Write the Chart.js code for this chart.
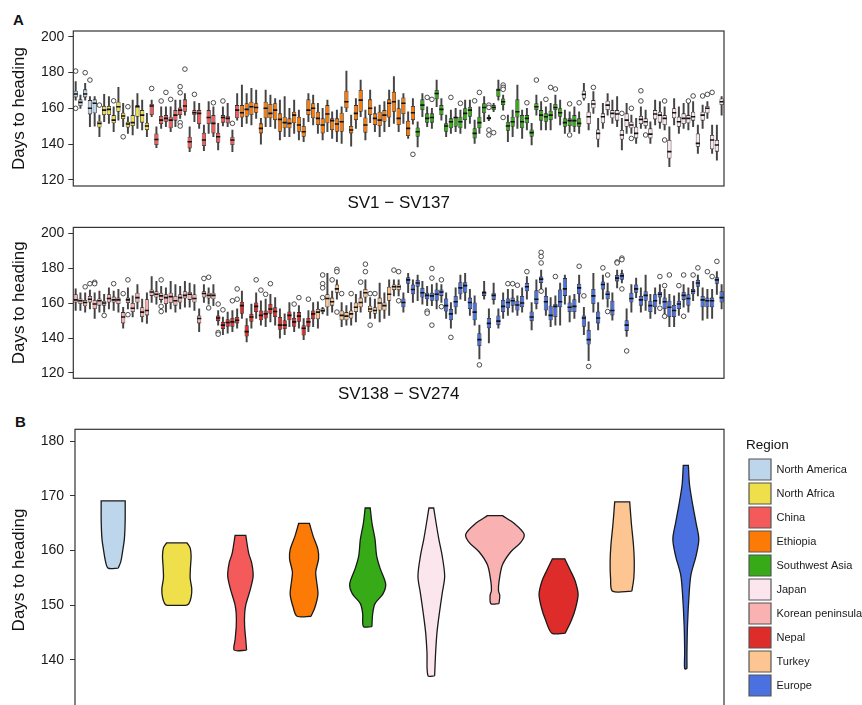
<!DOCTYPE html>
<html>
<head>
<meta charset="utf-8">
<script src="https://cdn.jsdelivr.net/npm/chart.js@4.4.0/dist/chart.umd.min.js"></script>
<style>
  html, body { margin: 0; padding: 0; background: #fff; overflow: hidden; width: 862px; height: 705px; }
  canvas { position: absolute; left: 0; }
  .tag { position: absolute; font: bold 15px "Liberation Sans", Arial, sans-serif; color: #111; }
</style>
</head>
<body>
<div class="tag" style="left:13px; top:11px;">A</div>
<canvas id="topChart" width="862" height="215" style="top:0px"></canvas>
<canvas id="bottomChart" width="862" height="190" style="top:215px"></canvas>
<div class="tag" style="left:15px; top:413px;">B</div>
<canvas id="violinChart" width="862" height="320" style="top:405px"></canvas>
<script>
// ---- Panel A, top row: SV1 - SV137 (box stats per accession) ----
const topLow = [164.6,160.0,164.6,149.7,150.0,144.1,152.5,151.6,146.9,153.4,
  149.7,146.0,145.1,148.8,147.9,144.1,155.3,138.0,148.8,149.7,
  146.9,149.7,154.4,156.2,135.8,152.5,148.8,136.3,146.0,144.1,
  136.7,150.1,149.7,135.8,153.4,149.7,151.6,150.7,154.4,140.0,
  149.7,149.7,148.8,142.3,144.1,144.1,146.0,142.3,141.3,152.5,
  150.7,146.0,142.3,146.9,143.2,141.3,140.4,158.1,138.9,148.8,
  155.3,142.3,152.0,146.9,144.1,146.9,149.7,151.6,146.9,151.6,
  143.2,151.2,138.5,155.3,149.7,148.8,160.9,153.4,144.1,146.0,
  146.9,146.0,148.8,151.6,140.4,146.0,152.5,153.1,158.1,164.6,
  159.0,141.3,144.1,148.8,143.2,147.9,139.5,156.2,147.9,147.9,
  147.9,154.4,150.7,146.0,146.9,146.9,146.0,164.6,147.9,157.2,
  138.5,148.8,156.2,151.6,149.7,136.7,146.0,146.0,140.4,148.8,
  148.8,140.4,150.7,148.8,147.9,127.4,150.7,146.0,148.8,147.9,
  149.7,134.8,148.8,154.4,134.8,131.1,156.2];
const topQ1 = [166.1,161.3,166.1,156.6,157.2,149.3,156.2,156.2,151.6,158.1,
  154.0,149.3,150.1,155.3,152.0,147.9,156.2,139.5,151.2,152.5,
  148.8,153.1,156.2,158.1,137.6,156.2,151.2,138.9,151.2,146.0,
  140.8,152.0,151.6,139.5,154.4,154.9,155.3,156.2,157.5,146.0,
  154.4,154.4,153.4,146.9,148.8,148.8,151.6,146.9,144.1,156.2,
  154.4,150.7,146.0,151.6,147.9,146.9,146.9,160.0,146.0,153.4,
  158.1,146.4,156.2,150.7,150.1,152.5,154.9,158.1,150.7,156.8,
  144.5,153.4,144.1,159.0,152.0,152.0,165.0,156.2,146.9,148.8,
  149.7,148.8,153.4,155.3,143.2,148.8,157.2,153.8,159.0,166.5,
  161.8,147.5,149.7,154.9,148.8,151.6,144.1,159.0,153.1,152.5,
  153.4,159.0,155.3,149.7,150.1,149.7,149.7,165.5,151.2,160.0,
  142.6,151.6,159.0,154.4,153.1,142.6,149.7,148.8,143.2,151.2,
  150.1,143.2,153.8,152.0,150.7,132.0,154.4,149.7,151.2,151.6,
  153.1,138.5,153.1,157.2,137.1,135.8,161.8];
const topMed = [168.0,163.3,168.0,160.0,162.8,151.6,159.0,159.4,153.4,160.9,
  155.7,151.2,152.0,160.9,156.2,150.1,161.3,142.6,153.4,154.4,
  153.4,156.2,159.0,161.3,141.3,157.5,157.2,142.3,154.9,151.6,
  144.1,154.9,154.4,142.3,159.0,157.5,159.4,160.9,160.5,148.8,
  160.0,157.2,159.0,153.8,152.0,151.6,156.2,150.7,146.9,159.0,
  160.0,154.4,150.7,156.8,153.1,151.2,152.5,163.7,147.9,157.2,
  164.6,150.7,160.0,154.4,153.4,156.2,162.8,163.7,154.4,162.8,
  148.8,157.5,146.9,161.8,154.4,154.9,168.3,159.4,150.1,152.5,
  154.9,152.5,157.2,159.0,146.0,152.0,160.5,154.5,160.5,170.2,
  163.7,150.1,152.5,158.1,152.5,154.4,146.4,160.9,156.2,155.3,
  156.2,160.5,157.5,152.0,153.1,153.1,151.6,167.8,155.3,162.4,
  146.0,155.3,161.8,157.2,156.8,145.1,153.4,150.7,146.0,153.8,
  152.5,145.6,156.8,156.2,154.4,135.8,157.5,152.5,154.4,154.4,
  155.3,140.4,156.2,160.0,142.3,139.5,163.7];
const topQ3 = [169.8,165.0,170.6,164.6,165.0,153.1,161.3,161.3,156.2,163.7,
  157.5,152.5,156.2,161.8,159.0,152.0,162.4,146.0,155.7,156.2,
  155.3,159.0,160.5,165.0,144.1,159.0,159.0,146.4,159.0,156.2,
  146.4,156.2,155.7,144.1,161.8,161.8,162.8,163.7,162.8,151.6,
  163.7,162.4,162.8,157.2,155.3,154.4,158.1,155.3,150.1,165.0,
  162.8,158.1,154.4,161.8,154.4,154.4,157.5,169.8,150.1,161.8,
  170.2,154.9,165.0,157.2,158.1,159.0,165.0,169.3,160.0,166.1,
  153.1,161.3,149.3,165.0,157.2,157.2,170.2,161.8,151.6,154.4,
  155.3,155.3,160.0,160.9,148.8,155.3,162.8,155.3,161.8,171.1,
  165.5,152.5,155.3,165.0,156.2,156.2,148.2,162.8,159.0,157.2,
  158.7,162.4,160.0,154.4,154.4,156.2,154.4,169.8,158.1,164.6,
  148.2,157.2,164.2,159.0,159.0,147.9,157.2,152.5,149.7,155.7,
  154.4,148.8,159.0,158.1,156.2,142.3,160.0,155.3,157.2,156.2,
  158.1,146.0,158.1,161.3,145.1,142.3,165.5];
const topHigh = [174.9,167.4,173.9,166.5,166.5,156.2,167.8,166.5,160.9,171.7,
  162.8,155.3,164.6,168.3,164.6,157.2,164.6,149.7,160.9,160.9,
  160.9,164.6,164.6,168.3,149.7,163.7,162.8,150.7,163.7,160.9,
  151.6,160.9,162.8,147.9,168.3,173.0,168.3,171.1,170.2,154.4,
  170.2,167.4,165.5,164.6,166.5,160.0,164.6,159.0,154.4,168.3,
  167.4,162.8,160.0,164.6,158.1,159.0,160.9,180.8,156.2,165.5,
  175.8,159.0,170.2,160.9,161.8,163.7,170.2,177.7,164.6,168.3,
  158.1,165.5,152.5,168.3,160.9,160.0,175.8,165.5,156.2,159.0,
  160.0,159.0,164.6,164.6,153.4,160.9,166.5,156.2,162.8,175.8,
  167.4,156.2,159.0,173.0,159.0,160.0,151.6,167.4,163.7,160.9,
  162.8,167.4,164.6,159.0,158.1,160.9,158.1,173.9,162.8,169.3,
  154.4,162.8,168.3,164.6,166.5,154.4,162.8,156.2,154.4,160.9,
  159.0,152.5,164.6,163.7,160.9,149.7,165.5,160.9,162.8,162.8,
  163.7,150.7,161.8,163.7,150.7,150.7,166.5];
// [accession number within row, days]
const topOutliers = [[1,180.8],[1,160.0],[3,179.9],[4,175.8],[6,161.8],[9,164.2],[11,144.1],[12,160.9],
  [17,171.1],[19,164.1],[20,168.9],[21,165.0],[23,172.1],[23,168.7],[23,152.0],[23,150.1],[24,181.9],
  [26,167.8],[30,163.1],[32,164.1],[34,151.6],[72,134.3],[75,166.1],[76,165.0],[80,166.1],[82,162.8],
  [85,164.2],[86,168.9],[88,161.8],[88,160.5],[88,147.9],[88,145.1],[89,146.4],[91,173.0],[91,171.7],
  [91,170.6],[91,154.9],[96,163.1],[98,175.8],[100,165.0],[101,171.7],[102,170.8],[105,162.5],[105,145.1],
  [107,163.1],[110,171.7],[116,157.2],[118,160.0],[118,143.2],[120,169.8],[120,164.1],[121,145.1],
  [125,164.1],[125,142.3],[130,164.1],[131,166.9],[133,166.9],[134,167.8],[135,168.9]];
const topRegions = ['North America','North Africa','China','Ethiopia','Southwest Asia','Japan'];
const topCounts = [5, 11, 19, 37, 35, 30];

// ---- Panel A, bottom row: SV138 - SV274 ----
const botLow = [155.8,155.8,154.9,156.7,151.2,154.9,154.9,156.7,155.8,154.9,
  145.6,156.7,152.1,156.7,149.3,148.4,160.4,159.5,160.4,154.9,
  156.7,154.9,156.7,157.7,157.7,155.8,143.7,160.4,159.5,158.6,
  147.4,141.9,142.8,143.7,145.6,151.2,137.8,145.6,151.2,147.4,
  146.5,149.3,147.4,140.0,141.9,146.5,143.7,145.6,139.1,143.7,
  146.5,145.6,153.9,153.0,154.9,162.3,146.5,147.4,147.4,149.3,
  154.9,160.4,151.2,151.2,149.3,151.2,153.0,164.2,164.2,154.9,
  166.0,160.4,161.4,159.5,158.6,158.6,156.7,160.4,151.2,145.6,
  153.9,162.3,161.4,153.0,147.4,128.0,162.3,137.2,159.5,145.6,
  151.2,153.0,154.9,153.0,154.9,162.3,144.7,156.7,167.9,153.0,
  146.5,147.4,147.4,159.5,149.3,151.2,160.4,141.9,127.0,154.9,
  144.7,162.3,157.7,150.2,168.8,171.6,140.9,154.9,163.2,154.9,
  155.8,151.2,153.9,159.5,153.0,146.5,146.5,153.0,157.7,154.9,
  161.4,164.2,150.2,151.2,151.2,165.1,156.7];
const botQ1 = [160.4,159.5,158.2,160.4,156.7,158.6,158.6,160.4,160.4,159.5,
  148.4,160.1,154.9,160.4,152.1,153.0,164.2,163.2,161.9,159.5,
  160.1,158.6,160.4,162.7,161.9,160.4,148.4,163.2,162.7,162.3,
  149.7,145.2,146.5,146.5,148.4,153.9,140.9,149.3,154.9,150.2,
  151.2,153.9,152.1,144.7,145.2,150.2,146.5,149.3,141.5,146.5,
  150.8,150.8,154.9,157.7,158.6,166.0,150.2,150.2,151.2,154.9,
  157.7,163.2,154.9,153.9,155.8,155.8,161.4,167.5,167.5,157.7,
  171.2,165.1,169.4,163.2,162.3,161.4,161.4,164.2,155.2,150.2,
  157.7,165.1,166.0,156.7,150.2,135.4,164.2,145.6,161.9,147.4,
  154.9,157.1,158.6,155.8,157.7,166.9,149.7,159.5,171.6,155.8,
  150.2,152.1,157.7,164.2,154.9,154.9,165.1,146.5,136.3,159.5,
  148.4,167.9,162.3,153.0,172.5,173.4,144.1,160.4,166.0,158.6,
  161.4,154.9,157.7,163.2,156.7,152.1,152.1,156.7,161.9,158.6,
  165.1,169.4,157.7,157.7,157.7,171.2,160.4];
const botMed = [161.9,161.4,160.4,162.3,159.5,161.4,160.1,162.7,161.9,161.9,
  152.1,161.9,157.1,163.2,154.9,155.8,166.4,165.1,164.2,163.2,
  163.8,161.4,163.2,164.5,165.1,162.7,151.2,165.6,164.5,164.5,
  151.5,147.4,148.9,149.3,150.2,158.6,143.7,152.1,158.2,153.0,
  153.9,156.7,155.2,147.4,147.4,153.0,149.3,152.6,145.6,149.3,
  153.9,154.9,155.8,162.7,160.8,168.2,153.0,152.6,153.9,157.7,
  160.4,166.0,156.7,155.8,160.1,158.6,165.1,169.4,169.4,160.4,
  173.4,167.9,171.6,166.0,164.5,164.2,165.1,166.4,158.6,153.9,
  160.8,168.8,170.1,160.4,154.9,139.1,166.0,148.4,164.5,149.7,
  158.2,160.4,161.4,159.0,160.1,169.4,152.1,162.3,173.8,160.8,
  153.0,158.2,160.8,168.2,157.7,158.2,168.8,151.5,139.1,164.2,
  151.5,170.7,165.1,155.8,174.4,175.7,147.4,162.7,168.2,161.9,
  164.5,158.6,161.4,165.1,160.8,157.7,155.8,159.5,164.5,162.7,
  166.9,171.6,161.9,161.4,161.4,173.4,163.2];
const botQ3 = [165.1,162.7,161.9,164.2,161.9,162.7,161.4,165.1,163.8,163.2,
  154.9,163.2,160.1,166.0,157.7,162.3,167.9,166.9,166.0,165.1,
  166.0,164.2,165.1,166.9,166.4,165.1,153.0,166.9,166.0,166.0,
  153.0,149.3,150.8,151.5,152.1,160.8,147.4,153.9,160.4,155.8,
  155.8,159.5,157.7,152.1,150.2,155.2,151.5,154.9,147.4,151.5,
  155.8,156.7,157.1,165.1,163.2,170.7,155.8,154.9,155.8,160.4,
  163.2,168.2,158.6,157.7,163.2,160.4,169.4,170.7,170.7,162.7,
  174.9,170.7,173.4,168.8,166.0,166.0,167.9,167.9,162.7,156.7,
  164.2,172.0,172.0,163.2,160.4,142.8,166.9,151.5,166.0,153.0,
  161.9,162.7,163.2,161.4,164.2,171.6,155.2,167.5,175.3,164.2,
  158.6,159.5,167.9,174.4,160.4,162.3,171.2,153.0,144.7,168.2,
  155.2,172.5,166.9,161.4,176.2,177.2,150.2,166.0,170.7,164.2,
  166.9,161.4,165.1,166.4,163.2,161.4,159.0,161.4,166.4,165.1,
  168.2,173.4,164.2,163.2,163.2,174.9,166.9];
const botHigh = [168.2,166.0,166.0,167.5,166.0,166.9,165.1,168.8,166.9,167.9,
  157.7,168.8,164.2,170.7,162.3,166.0,175.3,172.5,169.7,168.8,
  172.5,170.7,169.7,172.5,171.6,170.7,156.7,170.7,168.8,170.7,
  155.8,152.1,154.9,155.8,156.7,166.9,151.2,159.5,166.0,161.4,
  162.3,165.1,163.2,156.7,153.9,160.4,154.9,158.6,151.2,155.8,
  160.4,160.8,157.7,177.2,166.9,173.4,160.4,158.6,160.4,165.1,
  166.9,173.4,163.2,162.3,171.6,166.0,173.4,173.4,173.4,166.0,
  177.2,173.4,176.2,172.5,169.7,170.7,171.6,170.7,166.0,160.4,
  168.8,176.2,177.2,167.9,164.2,147.4,172.5,156.7,171.6,156.7,
  166.0,167.9,167.9,164.2,168.8,175.3,160.4,173.4,179.0,168.8,
  163.2,164.2,171.6,176.2,164.2,165.1,176.2,157.7,149.3,177.2,
  160.4,176.2,171.6,166.0,179.0,179.0,156.7,170.7,174.4,168.8,
  176.2,165.1,168.8,170.7,167.9,165.1,164.2,166.0,170.7,168.8,
  172.5,176.2,168.8,167.9,167.9,178.1,170.7];
const botOutliers = [[3,169.4],[4,171.2],[5,172.0],[5,171.2],[7,153.0],[9,171.2],[11,165.5],[12,173.4],
  [12,153.4],[19,173.4],[19,158.2],[19,155.2],[28,174.2],[29,174.9],[29,157.3],[31,159.5],[31,143.2],
  [31,142.2],[32,156.2],[34,161.4],[35,168.2],[35,162.3],[39,173.4],[40,167.5],[41,165.1],[42,171.2],
  [47,159.5],[48,163.2],[50,162.3],[53,176.2],[53,171.2],[53,168.8],[53,163.2],[55,173.4],[56,179.4],
  [56,178.1],[56,154.9],[57,165.5],[59,165.5],[61,172.1],[62,182.4],[62,178.1],[63,165.5],[63,147.4],
  [64,165.5],[68,179.0],[69,178.1],[69,161.4],[75,155.4],[75,154.3],[76,179.9],[76,174.4],[76,147.4],
  [78,173.4],[78,158.0],[80,140.4],[86,124.6],[92,171.2],[93,171.2],[94,170.3],[96,178.1],[99,189.2],
  [99,186.8],[99,183.1],[99,166.9],[102,175.3],[107,181.2],[108,164.2],[109,123.7],[112,180.3],
  [113,176.2],[113,155.2],[115,183.7],[115,183.1],[116,185.9],[116,185.0],[116,168.2],[117,132.6],
  [124,175.3],[124,157.1],[125,170.1],[125,152.5],[126,176.2],[128,170.1],[129,176.2],[129,152.5],
  [131,176.2],[132,180.3],[134,178.1],[135,175.3],[136,184.0]];
const botRegions = ['Korean peninsula','Nepal','Turkey','Europe'];
const botCounts = [30, 21, 18, 68];

// ---- Panel B: violin outlines (days, half width in category units) ----
const regionNames = ['North America','North Africa','China','Ethiopia','Southwest Asia',
  'Japan','Korean peninsula','Nepal','Turkey','Europe'];
const naLevels = [156.8,158,160,162,164,166,168,169.1];
const naWidths = [0.08,0.12,0.15,0.175,0.185,0.189,0.189,0.189];
const nafLevels = [150.0,150.3,151.5,153,155,157,159,160.5,161.4];
const nafWidths = [0.15,0.19,0.225,0.235,0.21,0.215,0.225,0.21,0.16];
const chinaLevels = [141.8,143.7,146.1,148.4,150.2,153.1,155.4,157.8,159.5,162.8];
const chinaWidths = [0.097,0.084,0.066,0.066,0.087,0.16,0.2,0.176,0.13,0.084];
const ethLevels = [148.0,149.6,152.0,154.4,156.1,158.5,160.2,162.6,165.0];
const ethWidths = [0.11,0.17,0.218,0.197,0.183,0.228,0.218,0.144,0.084];
const swaLevels = [146.1,148.5,150.3,152.1,153.9,156.8,159.1,162.1,165.0,167.8];
const swaWidths = [0.066,0.079,0.115,0.24,0.283,0.194,0.14,0.115,0.068,0.04];
const japLevels = [137.1,141.4,145.0,148.5,152.1,155.3,159.1,162.1,167.8];
const japWidths = [0.052,0.068,0.089,0.126,0.17,0.21,0.17,0.118,0.037];
const korLevels = [150.3,151.8,152.7,154.5,157.4,159.8,161.5,163.0,165.0,166.4];
const korWidths = [0.063,0.076,0.055,0.066,0.118,0.25,0.406,0.459,0.3,0.118];
const nepLevels = [144.9,147.3,149.6,152.0,154.4,156.1,158.5];
const nepWidths = [0.105,0.204,0.27,0.307,0.262,0.197,0.097];
const turLevels = [152.6,155.0,157.9,160.9,165.0,168.9];
const turWidths = [0.152,0.183,0.19,0.178,0.144,0.118];
const eurLevels = [138.4,141.5,146.2,152.1,155.6,159.1,162.1,165.0,168.6,172.1,175.6];
const eurWidths = [0.018,0.018,0.026,0.052,0.081,0.162,0.204,0.162,0.105,0.058,0.04];
const violinLevels = [naLevels, nafLevels, chinaLevels, ethLevels, swaLevels, japLevels, korLevels, nepLevels, turLevels, eurLevels];
const violinWidths = [naWidths, nafWidths, chinaWidths, ethWidths, swaWidths, japWidths, korWidths, nepWidths, turWidths, eurWidths];

const regionColors = {
  'North America': '#BDD6EC',
  'North Africa': '#EFDF4B',
  'China': '#F55A5A',
  'Ethiopia': '#FC7B07',
  'Southwest Asia': '#36AB17',
  'Japan': '#FCE6EE',
  'Korean peninsula': '#F9B1B2',
  'Nepal': '#DE2C2B',
  'Turkey': '#FCC592',
  'Europe': '#4A71DF'
};

Chart.defaults.font.family = '"Liberation Sans", Arial, sans-serif';
Chart.defaults.color = '#1a1a1a';

// frame around the plotting area (panel border)
const framePlugin = {
  id: 'frame',
  afterDraw(chart) {
    const a = chart.chartArea;
    const ctx = chart.ctx;
    ctx.save();
    ctx.strokeStyle = '#333';
    ctx.lineWidth = 1.2;
    ctx.strokeRect(a.left, a.top, a.right - a.left, a.bottom - a.top);
    ctx.restore();
  }
};

function yAxis(min, max, step, width, tickPad) {
  return {
    min: min, max: max,
    grid: { display: true, drawOnChartArea: false, drawTicks: true, tickLength: 5, color: '#333', lineWidth: 1 },
    border: { display: false },
    ticks: { stepSize: step, includeBounds: false, font: { size: 14 }, color: '#1a1a1a', padding: tickPad },
    title: { display: true, text: 'Days to heading', font: { size: 17 }, color: '#111', padding: { top: 9.5, bottom: 0 } },
    afterFit: function(s) { s.width = width; }
  };
}

function makeBoxChart(id, firstSV, low, q1, med, q3, high, outliers, counts, regions, xTitle, padTop, xAxisH, titlePad, yMin, yMax) {
  const labels = low.map(function(_, i) { return 'SV' + (firstSV + i); });
  const fills = [];
  counts.forEach(function(n, k) {
    for (let i = 0; i < n; i++) fills.push(regionColors[regions[k]]);
  });
  new Chart(document.getElementById(id), {
    data: {
      labels: labels,
      datasets: [{
        type: 'line',
        label: 'Outliers',
        data: outliers.map(function(o) { return { x: labels[o[0] - 1], y: o[1] }; }),
        showLine: false,
        pointStyle: 'circle',
        pointRadius: 2.3,
        pointBackgroundColor: '#fff',
        pointBorderColor: '#222',
        pointBorderWidth: 0.8,
        order: 1
      }, {
        type: 'line',
        label: 'Median',
        data: med,
        showLine: false,
        pointStyle: 'line',
        pointRadius: 2.1,
        pointBorderColor: '#111',
        pointBorderWidth: 1.6,
        order: 2
      }, {
        type: 'bar',
        label: 'IQR',
        data: q1.map(function(v, i) { return [v, q3[i]]; }),
        backgroundColor: fills,
        borderColor: '#333',
        borderWidth: 0.8,
        borderSkipped: false,
        grouped: false,
        barPercentage: 0.9,
        categoryPercentage: 1,
        order: 3
      }, {
        type: 'bar',
        label: 'Whiskers',
        data: low.map(function(v, i) { return [v, high[i]]; }),
        backgroundColor: '#444',
        barThickness: 1.3,
        grouped: false,
        order: 4
      }]
    },
    options: {
      responsive: false,
      devicePixelRatio: 1,
      animation: false,
      events: [],
      layout: { padding: { left: 0, right: 138, top: padTop, bottom: 0 } },
      plugins: { legend: { display: false }, tooltip: { enabled: false } },
      scales: {
        x: {
          offset: true,
          grid: { display: false },
          border: { display: false },
          ticks: { display: false },
          title: { display: true, text: xTitle, font: { size: 17 }, color: '#111', padding: { top: 0, bottom: titlePad } },
          afterFit: function(s) { s.height = xAxisH; }
        },
        y: yAxis(yMin, yMax, 20, 73.3, 4)
      }
    },
    plugins: [framePlugin]
  });
}

makeBoxChart('topChart', 1, topLow, topQ1, topMed, topQ3, topHigh, topOutliers, topCounts, topRegions,
  'SV1 \u2212 SV137', 31, 29, 1.5, 116.6, 203.2);
makeBoxChart('bottomChart', 138, botLow, botQ1, botMed, botQ3, botHigh, botOutliers, botCounts, botRegions,
  'SV138 \u2212 SV274', 7.7, 26.7, 0, 116.9, 203.5);

// ---- Panel B: violins ----
// outline goes up the right side and down the left side; the end levels are
// repeated so the trimmed ends stay flat with sharp corners
function violinOutline(pos, levels, widths) {
  const n = levels.length;
  const pts = [];
  pts.push({ x: pos + widths[0], y: levels[0] });
  for (let j = 0; j < n; j++) pts.push({ x: pos + widths[j], y: levels[j] });
  pts.push({ x: pos + widths[n - 1], y: levels[n - 1] });
  pts.push({ x: pos - widths[n - 1], y: levels[n - 1] });
  for (let j = n - 1; j >= 0; j--) pts.push({ x: pos - widths[j], y: levels[j] });
  pts.push({ x: pos + widths[0], y: levels[0] });
  return pts;
}

const violinSets = regionNames.map(function(name, k) {
  return {
    label: name,
    data: violinOutline(k + 1, violinLevels[k], violinWidths[k]),
    showLine: true,
    fill: 'shape',
    backgroundColor: regionColors[name],
    borderColor: '#1a1a1a',
    borderWidth: 1.3,
    pointRadius: 0,
    tension: 0.3
  };
});

new Chart(document.getElementById('violinChart'), {
  type: 'line',
  data: { datasets: violinSets },
  options: {
    responsive: false,
    devicePixelRatio: 1,
    animation: false,
    events: [],
    layout: { padding: { left: 0, right: 0, top: 24.3, bottom: 5 } },
    plugins: {
      tooltip: { enabled: false },
      legend: {
        position: 'right',
        align: 'start',
        maxWidth: 116,
        title: { display: true, text: 'Region', position: 'start', color: '#111', font: { size: 13.5 }, padding: { top: 9, bottom: 1.5 } },
        labels: {
          boxWidth: 22,
          boxHeight: 21,
          padding: 3,
          color: '#1a1a1a',
          font: { size: 11 },
          generateLabels: function(chart) {
            const items = Chart.defaults.plugins.legend.labels.generateLabels(chart);
            items.forEach(function(it) { it.strokeStyle = '#555'; it.lineWidth = 1.2; });
            return items;
          }
        }
      }
    },
    scales: {
      x: { type: 'linear', min: 0.4, max: 10.6, display: false },
      y: yAxis(130.74, 182.19, 10, 75, 6),
      y2: {
        position: 'right',
        grid: { display: false },
        border: { display: false },
        ticks: { display: false },
        afterFit: function(s) { s.width = 22; }
      }
    }
  },
  plugins: [framePlugin]
});
</script>
</body>
</html>
